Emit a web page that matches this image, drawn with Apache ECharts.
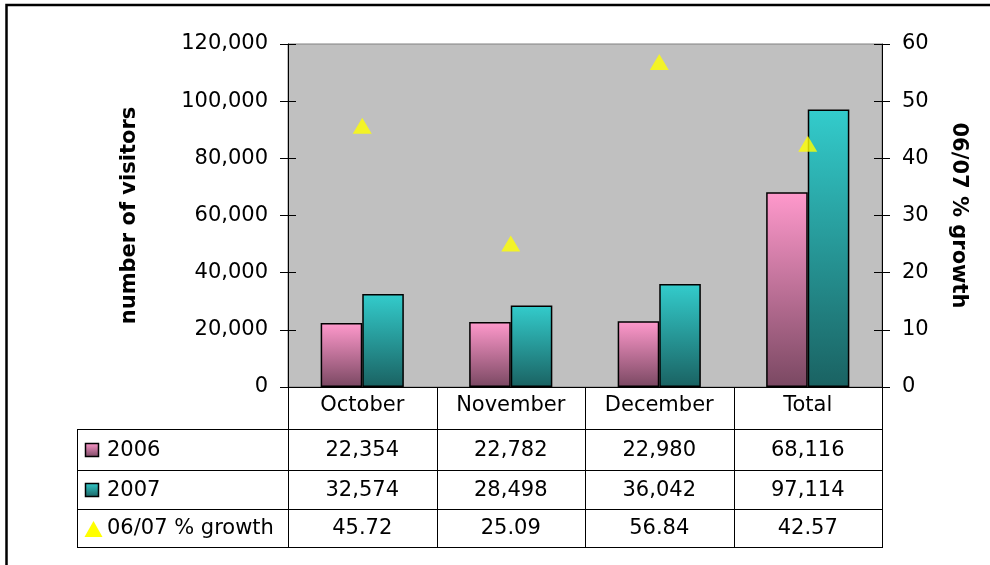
<!DOCTYPE html>
<html>
<head>
<meta charset="utf-8">
<script src="https://cdn.jsdelivr.net/npm/echarts@6/dist/echarts.min.js"></script>
<style>
  html, body { margin: 0; padding: 0; background: #fff; }
  #chart { width: 990px; height: 565px; }
</style>
</head>
<body>
<div id="chart"></div>
<script>
// Visitor counts per month and the year-on-year growth
const categories = ['October', 'November', 'December', 'Total'];
const visitors2006 = [22354, 22782, 22980, 68116];
const visitors2007 = [32574, 28498, 36042, 97114];
const growthPct = [45.72, 25.09, 56.84, 42.57];
const seriesNames = ['2006', '2007', '06/07 % growth'];

// Plot-area geometry
const GRID_L = 288, GRID_R = 882, GRID_T = 44, GRID_B = 387;
const TABLE_L = 77;
const ROW_LINES = [429, 470, 509, 547];
const FONT = '"DejaVu Sans", Verdana, sans-serif';
const FS = 21;

const pinkGrad = () => new echarts.graphic.LinearGradient(0, 0, 0, 1, [
  { offset: 0, color: '#ff99cc' }, { offset: 1, color: '#7a4862' }
]);
const tealGrad = () => new echarts.graphic.LinearGradient(0, 0, 0, 1, [
  { offset: 0, color: '#33cccc' }, { offset: 1, color: '#1a6262' }
]);

const fmtInt = v => v.toLocaleString('en-US');
const fmtPct = v => v.toFixed(2);

// Data table beneath the plot
function buildTable() {
  const els = [];
  const colW = (GRID_R - GRID_L) / categories.length;
  const line = (x1, y1, x2, y2) => els.push({
    type: 'line', shape: { x1, y1, x2, y2 },
    style: { stroke: '#000', lineWidth: 1 }, silent: true
  });
  for (let i = 0; i <= categories.length; i++) {
    const x = Math.round(GRID_L + i * colW) + 0.5;
    line(x, GRID_B, x, ROW_LINES[3]);
  }
  line(TABLE_L + 0.5, ROW_LINES[0], TABLE_L + 0.5, ROW_LINES[3]);
  ROW_LINES.forEach(y => line(TABLE_L, y + 0.5, GRID_R + 1, y + 0.5));

  const rows = [
    { vals: visitors2006.map(fmtInt) },
    { vals: visitors2007.map(fmtInt) },
    { vals: growthPct.map(fmtPct) }
  ];
  rows.forEach((r, ri) => {
    const cy = (ROW_LINES[ri] + ROW_LINES[ri + 1]) / 2 + 1;
    r.vals.forEach((t, ci) => els.push({
      type: 'text', x: GRID_L + (ci + 0.5) * colW, y: cy,
      style: { text: t, font: FS + 'px ' + FONT, fill: '#000', align: 'center', verticalAlign: 'middle' }
    }));
    els.push({
      type: 'text', x: 107, y: cy,
      style: { text: seriesNames[ri], font: FS + 'px ' + FONT, fill: '#000', align: 'left', verticalAlign: 'middle' }
    });
  });

  // Legend keys
  const k1 = (ROW_LINES[0] + ROW_LINES[1]) / 2 + 1;
  const k2 = (ROW_LINES[1] + ROW_LINES[2]) / 2 + 1;
  const k3 = (ROW_LINES[2] + ROW_LINES[3]) / 2 + 1;
  els.push({ type: 'rect', shape: { x: 85.5, y: k1 - 7, width: 13, height: 13 },
    style: { fill: pinkGrad(), stroke: '#000', lineWidth: 1.5 } });
  els.push({ type: 'rect', shape: { x: 85.5, y: k2 - 7, width: 13, height: 13 },
    style: { fill: tealGrad(), stroke: '#000', lineWidth: 1.5 } });
  els.push({ type: 'polygon', shape: { points: [[93.5, k3 - 8], [102.5, k3 + 8], [84.5, k3 + 8]] },
    style: { fill: '#ffff00' } });

  // Outer frame
  els.push({ type: 'rect', shape: { x: 6.5, y: 5, width: 1200, height: 800 },
    style: { fill: 'none', stroke: '#000', lineWidth: 2.5 }, silent: true, z: 100 });
  return els;
}

const chart = echarts.init(document.getElementById('chart'), null, { renderer: 'canvas' });

const axisBase = {
  type: 'value',
  axisLine: { show: true, lineStyle: { color: '#000', width: 1 } },
  axisTick: { show: true, length: 8, lineStyle: { color: '#000' } },
  splitLine: { show: false },
  axisLabel: { fontFamily: FONT, fontSize: FS, color: '#000', margin: 20 },
  nameLocation: 'middle',
  nameTextStyle: { fontFamily: FONT, fontSize: FS, fontWeight: 'bold', color: '#000' }
};

chart.setOption({
  animation: false,
  backgroundColor: '#fff',
  grid: {
    left: GRID_L, right: 990 - GRID_R, top: GRID_T, bottom: 565 - GRID_B,
    show: true, backgroundColor: '#c0c0c0', borderColor: '#808080', borderWidth: 1
  },
  xAxis: {
    type: 'category', data: categories,
    axisLine: { show: true, lineStyle: { color: '#000', width: 1 } },
    axisTick: { show: false },
    axisLabel: { fontFamily: FONT, fontSize: FS, color: '#000', margin: 8 }
  },
  yAxis: [
    Object.assign({}, axisBase, {
      position: 'left', min: 0, max: 120000, interval: 20000,
      axisLabel: Object.assign({}, axisBase.axisLabel, { formatter: v => fmtInt(v) }),
      name: 'number of visitors', nameGap: 148
    }),
    Object.assign({}, axisBase, {
      position: 'right', min: 0, max: 60, interval: 10,
      name: '06/07 % growth', nameGap: 66, nameRotate: -90
    }),
    // inner halves of the tick marks
    { type: 'value', position: 'left', min: 0, max: 120000, interval: 20000,
      axisLine: { show: false }, axisLabel: { show: false }, splitLine: { show: false },
      axisTick: { show: true, inside: true, length: 8, lineStyle: { color: '#000' } } },
    { type: 'value', position: 'right', min: 0, max: 60, interval: 10,
      axisLine: { show: false }, axisLabel: { show: false }, splitLine: { show: false },
      axisTick: { show: true, inside: true, length: 8, lineStyle: { color: '#000' } } }
  ],
  series: [
    { name: seriesNames[0], type: 'bar', data: visitors2006, yAxisIndex: 0,
      barCategoryGap: '44%', barGap: '0%',
      itemStyle: { color: pinkGrad(), borderColor: '#000', borderWidth: 1.5 } },
    { name: seriesNames[1], type: 'bar', data: visitors2007, yAxisIndex: 0,
      barCategoryGap: '44%', barGap: '0%',
      itemStyle: { color: tealGrad(), borderColor: '#000', borderWidth: 1.5 } },
    { name: seriesNames[2], type: 'scatter', data: growthPct, yAxisIndex: 1,
      symbol: 'triangle', symbolSize: [19, 16], z: 10,
      itemStyle: { color: '#ffff00', borderWidth: 0 } }
  ],
  graphic: { elements: buildTable() }
});
</script>
</body>
</html>
